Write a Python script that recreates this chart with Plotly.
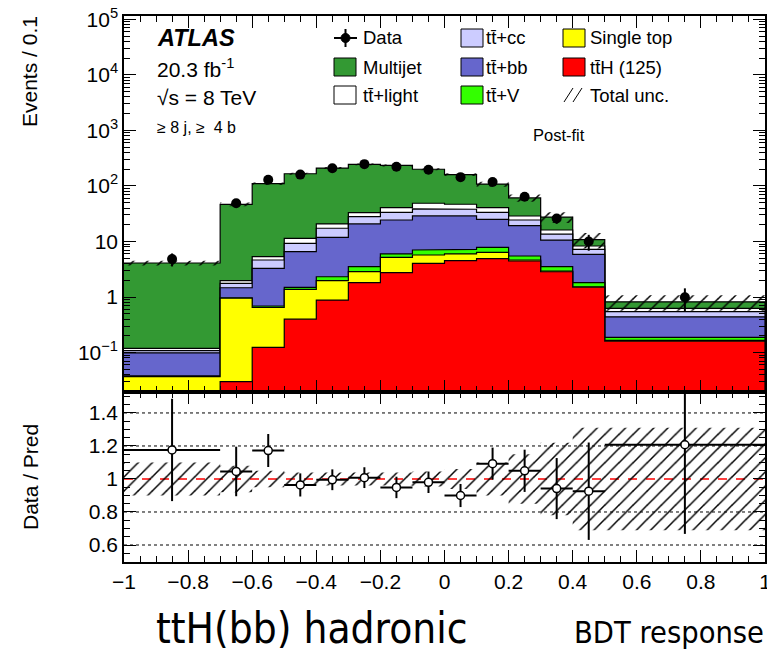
import plotly.graph_objects as go

# ---------------- data (values per 0.1) ----------------
edges = [-1.0, -0.7, -0.6, -0.5, -0.4, -0.3, -0.2, -0.1, 0.0, 0.1, 0.2, 0.3, 0.4, 0.5, 1.0]
tth = [0.004, 0.030, 0.124, 0.40, 0.88, 1.81, 2.74, 4.05, 4.51, 4.9, 4.45, 2.85, 1.5, 0.16]
single_top = [0.033, 0.92, 0.526, 0.97, 1.09, 1.05, 2.45, 1.66, 1.45, 1.49, 0.19, 0.09, 0.03, 0.006]
ttv = [0.001, 0.02, 0.04, 0.12, 0.35, 0.66, 0.77, 1.32, 1.27, 1.47, 0.84, 0.58, 0.28, 0.022]
ttbb = [0.061, 0.50, 2.60, 5.07, 9.58, 17.2, 18.4, 21.8, 21.6, 17.2, 13.8, 7.08, 4.07, 0.252]
ttcc = [0.009, 0.29, 1.35, 2.71, 5.4, 7.3, 9.2, 9.7, 9.2, 8.5, 5.1, 3.0, 1.35, 0.105]
ttlight = [0.011, 0.21, 0.69, 2.13, 3.4, 5.0, 7.0, 10.3, 8.8, 7.0, 4.4, 2.5, 1.07, 0.08]
multijet = [3.98, 44.8, 104.7, 154.6, 189.3, 212, 193.4, 151.2, 113.2, 67.4, 32.2, 11.4, 2.5, 0.195]
data = [4.82, 48.9, 129, 160, 209, 247, 222, 196, 144, 118, 64, 25.9, 10.0, 0.99]
ratio_err = [0.31, 0.15, 0.10, 0.07, 0.063, 0.063, 0.065, 0.065, 0.07, 0.097, 0.128, 0.185, 0.295, 0.54]
rel_unc = [0.10, 0.08, 0.05, 0.04, 0.04, 0.04, 0.04, 0.045, 0.06, 0.10, 0.15, 0.22, 0.31, 0.31]

xticks = [-1, -0.8, -0.6, -0.4, -0.2, 0, 0.2, 0.4, 0.6, 0.8, 1]
xticktext = ["\u22121", "\u22120.8", "\u22120.6", "\u22120.4", "\u22120.2", "0", "0.2", "0.4", "0.6", "0.8", "1"]
yticks = [0.1, 1, 10, 100, 1000, 1e4, 1e5]
yticktext = ["10<sup>\u22121</sup>", "1", "10", "10<sup>2</sup>", "10<sup>3</sup>", "10<sup>4</sup>", "10<sup>5</sup>"]
rticks = [0.6, 0.8, 1.0, 1.2, 1.4]
rticktext = ["0.6", "0.8", "1", "1.2", "1.4"]

procs = [  # bottom -> top
    ("ttH", tth, "#ff0000"),
    ("Single top", single_top, "#ffff00"),
    ("ttV", ttv, "#33ff00"),
    ("ttbb", ttbb, "#6666cc"),
    ("ttcc", ttcc, "#ccccff"),
    ("ttlight", ttlight, "#ffffff"),
    ("Multijet", multijet, "#339933"),
]

FONT = "Liberation Sans, Arial, sans-serif"
NARROW = "Liberation Sans Narrow, DejaVu Sans Condensed, sans-serif"
nb = len(edges) - 1
centers = [(edges[i] + edges[i + 1]) / 2 for i in range(nb)]
halfw = [(edges[i + 1] - edges[i]) / 2 for i in range(nb)]


def step(vals):
    xs, ys = [], []
    for i in range(nb):
        xs += [edges[i], edges[i + 1]]
        ys += [vals[i], vals[i]]
    return xs, ys


# cumulative stack
cum = []
running = [0.0] * nb
for name, vals, col in procs:
    running = [running[i] + vals[i] for i in range(nb)]
    cum.append((name, list(running), col))
total = cum[-1][1]

fig = go.Figure()

FLOOR = 1e-4
for name, vals, col in reversed(cum):
    xs, ys = step(vals)
    xs = xs + [edges[-1], edges[0]]
    ys = ys + [FLOOR, FLOOR]
    fig.add_trace(go.Scatter(x=xs, y=ys, mode="lines", fill="toself", fillcolor=col,
                             line=dict(color="black", width=1.2), xaxis="x", yaxis="y",
                             showlegend=False, hoverinfo="skip"))

PATTERN = dict(shape="/", fgcolor="black", bgcolor="rgba(0,0,0,0)", size=10, solidity=0.15,
               fgopacity=1, fillmode="replace")

# uncertainty band (upper)
up = [total[i] * (1 + rel_unc[i]) for i in range(nb)]
dn = [total[i] * (1 - rel_unc[i]) for i in range(nb)]
xu, yu = step(up)
xd, yd = step(dn)
fig.add_trace(go.Scatter(x=xu + xd[::-1], y=yu + yd[::-1], mode="lines", fill="toself",
                         fillcolor="rgba(0,0,0,0)", line=dict(width=0, color="rgba(0,0,0,0)"),
                         fillpattern=PATTERN, xaxis="x", yaxis="y", showlegend=False, hoverinfo="skip"))

# data upper
data_err = [ratio_err[i] * total[i] for i in range(nb)]
fig.add_trace(go.Scatter(x=centers, y=data, mode="markers",
                         marker=dict(color="black", size=10),
                         error_y=dict(type="data", array=data_err, color="black", thickness=2, width=0),
                         xaxis="x", yaxis="y", showlegend=False))

# ratio band
ru = [1 + u for u in rel_unc]
rd = [1 - u for u in rel_unc]
xu, yu = step(ru)
xd, yd = step(rd)
fig.add_trace(go.Scatter(x=xu + xd[::-1], y=yu + yd[::-1], mode="lines", fill="toself",
                         fillcolor="rgba(0,0,0,0)", line=dict(width=0, color="rgba(0,0,0,0)"),
                         fillpattern=PATTERN, xaxis="x2", yaxis="y2", showlegend=False, hoverinfo="skip"))

ratio = [data[i] / total[i] for i in range(nb)]
fig.add_trace(go.Scatter(x=centers, y=ratio, mode="markers",
                         marker=dict(color="white", size=8, line=dict(color="black", width=1.5)),
                         error_y=dict(type="data", array=ratio_err, color="black", thickness=2, width=0),
                         error_x=dict(type="data", array=halfw, color="black", thickness=2, width=0),
                         xaxis="x2", yaxis="y2", showlegend=False))

shapes = []
for g in [0.6, 0.8, 1.2, 1.4]:
    shapes.append(dict(type="line", xref="x2", yref="y2", x0=-1, x1=1, y0=g, y1=g,
                       line=dict(color="black", width=1, dash="dot"), layer="below"))
shapes.append(dict(type="line", xref="x2", yref="y2", x0=-1, x1=1, y0=1, y1=1,
                   line=dict(color="red", width=1.3, dash="dash"), layer="below"))

# ---------- manual legend (pixel helpers) ----------
L, T, W, H = 124, 16, 641, 546


def px(x):
    return (x - L) / W


def py(y):
    return 1 - (y - T) / H


annotations = []


def text(x, y, s, size, anchor="left", family=FONT):
    annotations.append(dict(x=px(x), y=py(y), xref="paper", yref="paper", text=s, showarrow=False,
                            xanchor=anchor, yanchor="middle",
                            font=dict(size=size, color="black", family=family)))


def box(x0, yc, col):
    shapes.append(dict(type="rect", xref="paper", yref="paper", x0=px(x0), x1=px(x0 + 22),
                       y0=py(yc + 9), y1=py(yc - 9), fillcolor=col, line=dict(color="black", width=1)))


# column 1
shapes.append(dict(type="line", xref="paper", yref="paper", x0=px(334), x1=px(357), y0=py(38), y1=py(38),
                   line=dict(color="black", width=2)))
shapes.append(dict(type="line", xref="paper", yref="paper", x0=px(345.5), x1=px(345.5), y0=py(29), y1=py(47),
                   line=dict(color="black", width=2)))
shapes.append(dict(type="circle", xref="paper", yref="paper", x0=px(341), x1=px(350), y0=py(42.5), y1=py(33.5),
                   fillcolor="black", line=dict(color="black", width=1)))
text(361, 38, "Data", 18.5)
box(334, 67, "#339933")
text(361, 67, "Multijet", 18.5)
box(334, 95, "#ffffff")
text(361, 95, "tt\u0304+light", 18.5)
# column 2
box(461, 38, "#ccccff")
text(484, 38, "tt\u0304+cc", 18.5)
box(461, 67, "#6666cc")
text(484, 67, "tt\u0304+bb", 18.5)
box(461, 95, "#33ff00")
text(484, 95, "tt\u0304+V", 18.5)
# column 3
box(563, 38, "#ffff00")
text(588, 38, "Single top", 18.5)
box(563, 67, "#ff0000")
text(588, 67, "tt\u0304H (125)", 18.5)
for dx in [0, 9]:
    shapes.append(dict(type="line", xref="paper", yref="paper", x0=px(564 + dx), x1=px(573 + dx),
                       y0=py(102), y1=py(88), line=dict(color="black", width=1)))
text(588, 95, "Total unc.", 18.5)

text(155, 38, "<b><i>ATLAS</i></b>", 23.5)
text(155, 68, "20.3 fb<sup>-1</sup>", 21)
text(155, 97, "\u221as = 8 TeV", 21)
text(155, 128, "\u2265 8 j, \u2265  4 b", 16)
text(531, 135, "Post-fit", 16.5)

annotations.append(dict(x=px(30), y=py(72), xref="paper", yref="paper", text="Events / 0.1",
                        textangle=-90, showarrow=False, xanchor="center", yanchor="middle",
                        font=dict(size=21, family=FONT, color="black")))
annotations.append(dict(x=px(30), y=py(477), xref="paper", yref="paper", text="Data / Pred",
                        textangle=-90, showarrow=False, xanchor="center", yanchor="middle",
                        font=dict(size=21, family=FONT, color="black")))
annotations.append(dict(x=px(312), y=py(628), xref="paper", yref="paper", text="ttH(bb) hadronic",
                        showarrow=False, xanchor="center", yanchor="middle",
                        font=dict(size=42, family=NARROW, color="black")))
annotations.append(dict(x=px(766), y=py(632), xref="paper", yref="paper", text="BDT response",
                        showarrow=False, xanchor="right", yanchor="middle",
                        font=dict(size=30.5, family=NARROW, color="black")))

split = 170 / 546
minor_log = [m * 10 ** e for e in range(-2, 6) for m in range(2, 10)]
axis_common = dict(showline=True, linecolor="black", linewidth=1.5, mirror="ticks", ticks="inside",
                   tickcolor="black", tickwidth=1, showgrid=False, zeroline=False, automargin=False)

fig.update_layout(
    width=767, height=656,
    margin=dict(l=L, r=767 - L - W, t=T, b=656 - T - H, autoexpand=False),
    paper_bgcolor="white", plot_bgcolor="white",
    font=dict(family=FONT, color="black"),
    showlegend=False,
    shapes=shapes, annotations=annotations,
    xaxis=dict(domain=[0, 1], anchor="y", range=[-1, 1], tickvals=xticks, showticklabels=False,
               ticklen=12, matches="x2",
               minor=dict(dtick=0.05, tick0=0, ticks="inside", ticklen=6, tickcolor="black"), **axis_common),
    yaxis=dict(domain=[split, 1], anchor="x", type="log", range=[-1.71, 5.06], tickvals=yticks,
               ticktext=yticktext, ticklen=12, tickfont=dict(size=21),
               minor=dict(tickmode="array", tickvals=minor_log, ticks="inside", ticklen=6, tickcolor="black"),
               **axis_common),
    xaxis2=dict(domain=[0, 1], anchor="y2", range=[-1, 1], tickvals=xticks, ticktext=xticktext,
                ticklen=12, tickfont=dict(size=21), ticklabeloverflow="allow",
                minor=dict(dtick=0.05, tick0=0, ticks="inside", ticklen=6, tickcolor="black"), **axis_common),
    yaxis2=dict(domain=[0, split], anchor="x2", range=[0.497, 1.527], tickvals=rticks, ticktext=rticktext,
                ticklen=12, tickfont=dict(size=21),
                minor=dict(dtick=0.05, tick0=0, ticks="inside", ticklen=6, tickcolor="black"), **axis_common),
)

fig.write_html("out.html")
